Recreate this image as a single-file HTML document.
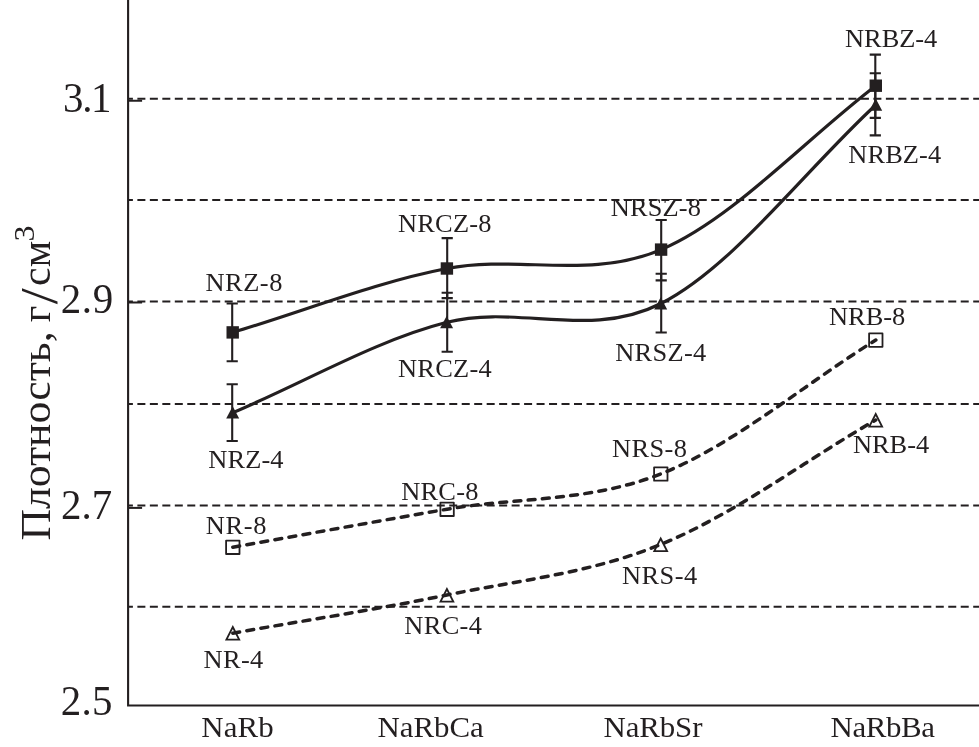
<!DOCTYPE html><html lang="ru"><head><meta charset="utf-8"><title>Плотность</title>
<style>html,body{margin:0;padding:0;background:#fff}svg{display:block}text{font-family:"Liberation Serif","DejaVu Serif",serif;fill:#231f20}</style></head><body>
<svg width="979" height="747" viewBox="0 0 979 747">
<rect width="979" height="747" fill="#fff"/>
<g stroke="#231f20" stroke-width="2" stroke-dasharray="8 4.475" stroke-dashoffset="3.2" fill="none">
<line x1="128.1" y1="98.63" x2="979" y2="98.63"/>
<line x1="128.1" y1="200.00" x2="979" y2="200.00"/>
<line x1="128.1" y1="301.50" x2="979" y2="301.50"/>
<line x1="128.1" y1="404.00" x2="979" y2="404.00"/>
<line x1="128.1" y1="505.44" x2="979" y2="505.44"/>
<line x1="128.1" y1="606.80" x2="979" y2="606.80"/>
</g>
<g stroke="#231f20" stroke-width="2.1" fill="none">
<path d="M128.1,0 V705.5 H979"/>
<line x1="128.1" y1="100.75" x2="142.1" y2="100.75" stroke-width="2"/>
<line x1="128.1" y1="302.50" x2="142.1" y2="302.50" stroke-width="2"/>
<line x1="128.1" y1="507.90" x2="142.1" y2="507.90" stroke-width="2"/>
</g>
<g stroke="#231f20" stroke-width="3.2" fill="none" stroke-linejoin="round">
<path d="M232.70,332.40 C304.10,311.10 375.50,282.30 446.90,268.50 C518.30,254.70 589.62,280.07 661.10,249.60 C732.58,219.13 804.23,140.33 875.80,85.70"/>
<path d="M233.00,412.60 C304.30,382.50 375.57,340.48 446.90,322.30 C518.23,304.12 589.48,339.75 661.00,303.50 C732.52,267.25 804.33,171.03 876.00,104.80"/>
<path d="M232.80,547.20 C304.23,534.53 375.77,521.42 447.10,509.20 C518.43,496.98 589.35,502.10 660.80,473.90 C732.25,445.70 804.13,384.63 875.80,340.00" stroke-dasharray="6.9 7.35" stroke-linecap="round" stroke-width="3.5"/>
<path d="M232.80,633.20 C304.17,620.47 375.58,609.78 446.90,595.00 C518.22,580.22 589.23,573.67 660.70,544.50 C732.17,515.33 804.03,461.50 875.70,420.00" stroke-dasharray="6.9 7.35" stroke-linecap="round" stroke-width="3.5"/>
</g>
<g stroke="#231f20" stroke-width="2.1" fill="none">
<path d="M232.2,303.5 V361.3 M226.6,303.5 h11.2 M226.6,361.3 h11.2"/>
<path d="M447.2,238.1 V298.1 M441.6,238.1 h11.2 M441.6,298.1 h11.2"/>
<path d="M661.2,220.0 V280.4 M655.6,220.0 h11.2 M655.6,280.4 h11.2"/>
<path d="M875.3,54.6 V117.9 M869.7,54.6 h11.2 M869.7,117.9 h11.2"/>
<path d="M232.2,384.2 V441.0 M226.6,384.2 h11.2 M226.6,441.0 h11.2"/>
<path d="M447.2,292.7 V351.7 M441.6,292.7 h11.2 M441.6,351.7 h11.2"/>
<path d="M661.2,273.7 V332.5 M655.6,273.7 h11.2 M655.6,332.5 h11.2"/>
<path d="M875.3,73.3 V135.4 M869.7,73.3 h11.2 M869.7,135.4 h11.2"/>
</g>
<g fill="#231f20" stroke="none">
<rect x="226.5" y="326.2" width="12.4" height="12.4"/>
<rect x="440.7" y="262.3" width="12.4" height="12.4"/>
<rect x="654.9" y="243.4" width="12.4" height="12.4"/>
<rect x="869.6" y="79.5" width="12.4" height="12.4"/>
<path d="M232.7,406.3 l6.5,12.2 h-13z"/>
<path d="M446.6,316.0 l6.5,12.2 h-13z"/>
<path d="M660.7,297.2 l6.5,12.2 h-13z"/>
<path d="M875.7,98.5 l6.5,12.2 h-13z"/>
</g>
<g fill="none" stroke="#231f20" stroke-width="1.8" stroke-linejoin="round">
<rect x="226.1" y="540.6" width="13.4" height="13.4"/>
<rect x="440.4" y="502.6" width="13.4" height="13.4"/>
<rect x="654.1" y="467.3" width="13.4" height="13.4"/>
<rect x="869.1" y="333.4" width="13.4" height="13.4"/>
<path d="M232.8,627.0 l6.4,12.6 h-12.8z" stroke-linejoin="miter"/>
<path d="M446.9,589.0 l6.4,12.6 h-12.8z" stroke-linejoin="miter"/>
<path d="M660.7,538.5 l6.4,12.6 h-12.8z" stroke-linejoin="miter"/>
<path d="M875.7,414.0 l6.4,12.6 h-12.8z" stroke-linejoin="miter"/>
</g>
<g font-size="24.6px">
<text transform="translate(205.45,291.0) scale(1.075,1)" letter-spacing="0.49px">NRZ-8</text>
<text transform="translate(208.35,468.1) scale(1.075,1)" letter-spacing="0.08px">NRZ-4</text>
<text transform="translate(397.95,231.6) scale(1.075,1)" letter-spacing="0.21px">NRCZ-8</text>
<text transform="translate(397.95,376.6) scale(1.075,1)" letter-spacing="0.23px">NRCZ-4</text>
<text transform="translate(610.85,215.5) scale(1.075,1)" letter-spacing="0.10px">NRSZ-8</text>
<text transform="translate(615.15,360.5) scale(1.075,1)" letter-spacing="0.29px">NRSZ-4</text>
<text transform="translate(845.05,47.3) scale(1.075,1)" letter-spacing="-0.05px">NRBZ-4</text>
<text transform="translate(848.35,162.7) scale(1.075,1)" letter-spacing="0.05px">NRBZ-4</text>
<text transform="translate(205.75,534.4) scale(1.075,1)" letter-spacing="0.59px">NR-8</text>
<text transform="translate(203.45,667.6) scale(1.075,1)" letter-spacing="0.34px">NR-4</text>
<text transform="translate(401.15,499.6) scale(1.075,1)" letter-spacing="0.21px">NRC-8</text>
<text transform="translate(404.35,634.1) scale(1.075,1)" letter-spacing="0.29px">NRC-4</text>
<text transform="translate(611.95,457.4) scale(1.075,1)" letter-spacing="0.36px">NRS-8</text>
<text transform="translate(622.05,584.1) scale(1.075,1)" letter-spacing="0.38px">NRS-4</text>
<text transform="translate(829.05,325.3) scale(1.075,1)" letter-spacing="-0.02px">NRB-8</text>
<text transform="translate(853.05,452.6) scale(1.075,1)" letter-spacing="-0.06px">NRB-4</text>
</g>
<g font-size="30px">
<text transform="translate(201.30,736.8) scale(1.03,1)" letter-spacing="0.13px">NaRb</text>
<text transform="translate(377.60,737.3) scale(1.03,1)" letter-spacing="-0.04px">NaRbCa</text>
<text transform="translate(603.50,736.8) scale(1.03,1)" letter-spacing="-0.11px">NaRbSr</text>
<text transform="translate(830.60,736.8) scale(1.03,1)" letter-spacing="-0.39px">NaRbBa</text>
</g>
<g font-size="42.2px">
<text transform="translate(63.10,111.8) scale(0.97,1)" letter-spacing="-1.47px">3.1</text>
<text transform="translate(60.75,312.8) scale(0.97,1)" letter-spacing="0.64px">2.9</text>
<text transform="translate(61.05,518.6) scale(0.97,1)" letter-spacing="-0.03px">2.7</text>
<text transform="translate(60.75,715.2) scale(0.97,1)" letter-spacing="0.28px">2.5</text>
</g>
<g font-size="42.2px">
<text transform="translate(49.8,540.6) rotate(-90) scale(1.035,1)">Плотность,</text>
<text transform="translate(49.8,322.3) rotate(-90) scale(0.95,1)">г</text>
<text transform="translate(56.7,304.3) rotate(-90) scale(1.11,1)" font-size="52px">/</text>
<text transform="translate(49.8,286) rotate(-90) scale(0.995,1)">см</text>
<text transform="translate(34.3,241.6) rotate(-90) scale(1.1,1)" font-size="29px">3</text>
</g>
</svg></body></html>
